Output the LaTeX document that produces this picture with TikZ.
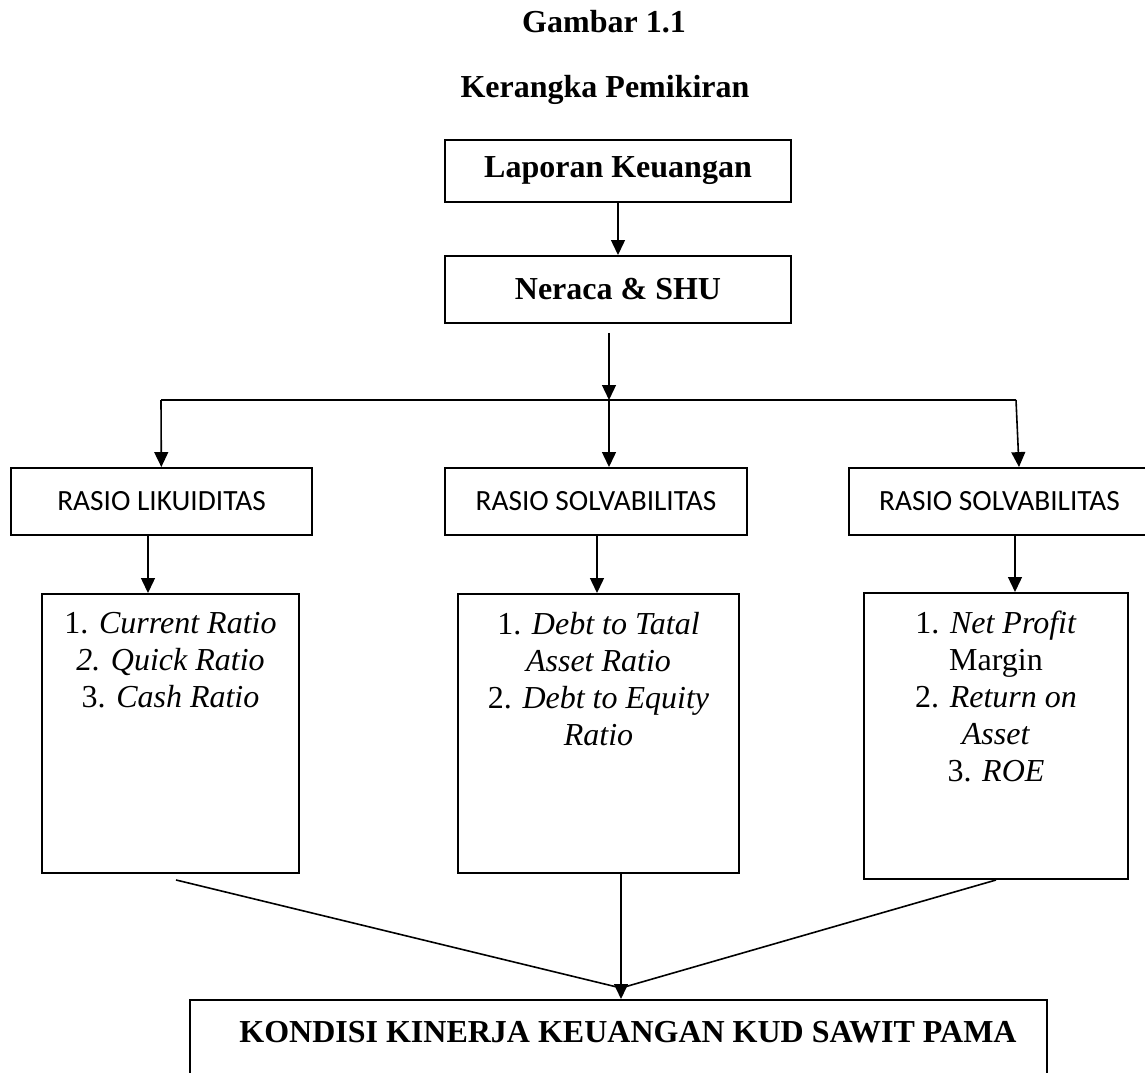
\documentclass[tikz,border=0pt,12pt]{standalone}
\usepackage{fontspec}
\setmainfont{Liberation Serif}
\newfontfamily\calibri{Carlito}
\usetikzlibrary{arrows.meta,calc}

\begin{document}
\begin{tikzpicture}[x=0.375pt,y=-0.375pt,
  ttl/.style={anchor=base,inner sep=0pt,font=\bfseries},
  box/.style={draw,line width=0.75pt,inner sep=0pt,font=\bfseries},
  rbox/.style={draw,line width=0.75pt,inner sep=0pt,minimum height=25.1pt,font=\calibri\fontsize{11}{13}\selectfont},
  lbox/.style={draw,line width=0.75pt,inner sep=0pt},
  ltext/.style={anchor=north,inner sep=0pt,align=center,font=\fontsize{12}{13.875}\selectfont},
  ln/.style={line width=0.6pt},
  arr/.style={line width=0.6pt,-{Triangle[length=5.6pt,width=5.2pt]}}]
\useasboundingbox (0,0) rectangle (1145,1073);
\node[ttl] (gbr) at (604,33) {Gambar 1.1};
\node[ttl] (krg) at (605,98) {Kerangka Pemikiran};
\node[box,minimum width=129.75pt,minimum height=23.25pt] (lap) at (618,171) {Laporan Keuangan};
\node[box,minimum width=129.75pt,minimum height=25.1pt] (ner) at (618,289.5) {Neraca \& SHU};
\node[rbox,minimum width=112.9pt] (rlik) at (161.5,501.5) {RASIO LIKUIDITAS};
\node[rbox,minimum width=113.25pt] (rsol) at (596,501.5) {RASIO SOLVABILITAS};
\node[rbox,minimum width=112.9pt] (rsol2) at (999.5,501.5) {RASIO SOLVABILITAS};
\node[lbox,minimum width=96.4pt,minimum height=104.6pt] (lik) at (170.5,733.5) {};
\node[lbox,minimum width=105.4pt,minimum height=104.6pt] (sol) at (598.5,733.5) {};
\node[lbox,minimum width=99pt,minimum height=107.25pt] (prof) at (996,736) {};
\node[lbox,minimum width=321.4pt,minimum height=33.75pt] (kond) at (618.5,1045) {};
\node[ltext] (likt) at ($(lik.north)+(0,19)$) {1. \textit{Current Ratio}\\\textit{2. Quick Ratio}\\3. \textit{Cash Ratio}};
\node[ltext] (solt) at ($(sol.north)+(0,19)$) {1. \textit{Debt to Tatal}\\\textit{Asset Ratio}\\2. \textit{Debt to Equity}\\\textit{Ratio}};
\node[ltext] (proft) at ($(prof.north)+(0,18)$) {1. \textit{Net Profit}\\Margin\\2. \textit{Return on}\\\textit{Asset}\\3. \textit{ROE}};
\node[ttl] (kondt) at (628,1042) {KONDISI KINERJA KEUANGAN KUD SAWIT PAMA};
\coordinate (split) at (609,400);
\coordinate (hl) at (161,400);
\coordinate (hr) at (1016,400);
\coordinate (meet) at (621,988);
\path[draw,arr] (lap) -- (ner);
\path[draw,arr] ($(ner.south)+(-9,9)$) -- (split);
\path[draw,ln] (hl) -- (hr);
\path[draw,arr] (hl) -- (rlik);
\path[draw,arr] (split) -- ($(rsol.north)+(13,0)$);
\path[draw,arr] (hr) -- ($(rsol2.north)+(19.5,0)$);
\path[draw,arr] ($(rlik.south)+(-13.5,0)$) -- ($(lik.north)+(-22.5,0)$);
\path[draw,arr] ($(rsol.south)+(1,0)$) -- ($(sol.north)+(-1.5,0)$);
\path[draw,arr] ($(rsol2.south)+(15.5,0)$) -- ($(prof.north)+(19,0)$);
\path[draw,ln] ($(lik.south)+(5.5,6)$) -- (meet);
\path[draw,ln] (prof.south) -- (meet);
\path[draw,arr] ($(sol.south)+(22.5,0)$) -- ($(kond.north)+(2.5,0)$);
\end{tikzpicture}
\end{document}
